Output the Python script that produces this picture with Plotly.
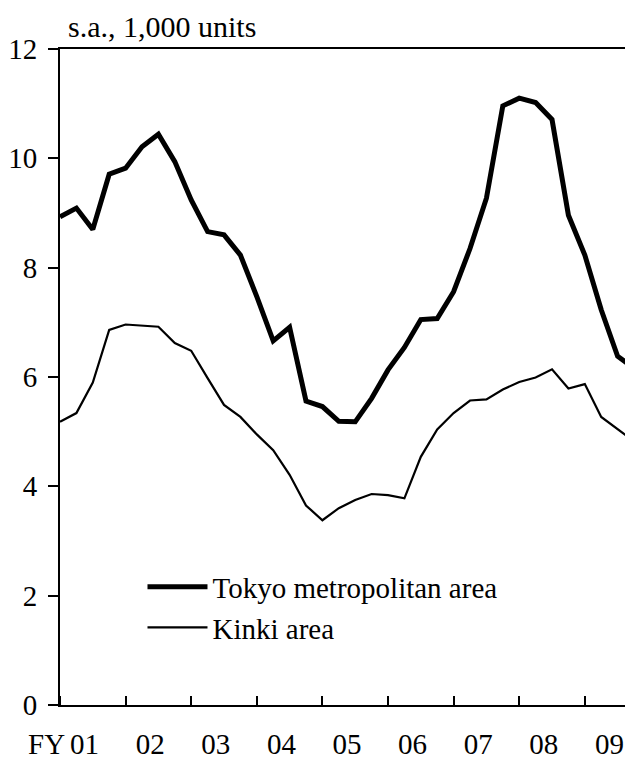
import plotly.graph_objects as go

# quarterly index, FY2001 Q1 = 0
quarters = list(range(36))

tokyo = [8.93, 9.09, 8.70, 9.71, 9.82, 10.21, 10.44, 9.94,
         9.24, 8.66, 8.60, 8.23, 7.47, 6.66, 6.91, 5.56,
         5.46, 5.19, 5.18, 5.61, 6.13, 6.54, 7.05, 7.07,
         7.56, 8.35, 9.27, 10.96, 11.10, 11.02, 10.71, 8.96,
         8.23, 7.23, 6.38, 6.16]

kinki = [5.18, 5.34, 5.90, 6.86, 6.96, 6.94, 6.92, 6.62,
         6.48, 5.98, 5.49, 5.27, 4.95, 4.66, 4.21, 3.65,
         3.38, 3.60, 3.75, 3.86, 3.84, 3.78, 4.54, 5.04,
         5.34, 5.57, 5.59, 5.77, 5.91, 5.99, 6.14, 5.79,
         5.87, 5.27, 5.04, 4.82]

year_labels = ["01", "02", "03", "04", "05", "06", "07", "08", "09"]
label_pos = [4 * i + 1.5 for i in range(len(year_labels))]

font = "Liberation Serif"

fig = go.Figure()
fig.add_trace(go.Scatter(x=quarters, y=tokyo, mode="lines", name="Tokyo metropolitan area",
                         line=dict(color="black", width=5), legendgroup="a"))
fig.add_trace(go.Scatter(x=quarters, y=kinki, mode="lines", name="Kinki area",
                         line=dict(color="black", width=2.2), legendgroup="b"))

fig.update_layout(
    width=625, height=760,
    margin=dict(l=60, r=0, t=49, b=55, autoexpand=False),
    plot_bgcolor="white", paper_bgcolor="white",
    font=dict(family=font, size=29, color="black"),
    showlegend=True,
    legend=dict(x=0.146, y=0.219, xanchor="left", yanchor="top",
                bgcolor="rgba(0,0,0,0)", font=dict(family=font, size=29),
                itemwidth=60, tracegroupgap=0, traceorder="grouped"),
    annotations=[
        dict(text="s.a., 1,000 units", xref="paper", yref="paper", x=0, y=1,
             xanchor="left", yanchor="bottom", xshift=6, yshift=4,
             showarrow=False, font=dict(family=font, size=30)),
        dict(text="FY", xref="x", yref="paper", x=0.45, y=0,
             xanchor="right", yanchor="top", yshift=-21,
             showarrow=False, font=dict(family=font, size=29)),
    ],
)

fig.update_xaxes(
    range=[0, 34.45], automargin=False,
    tickmode="array", tickvals=label_pos, ticktext=year_labels,
    ticks="", showgrid=False, zeroline=False,
    showline=True, linecolor="black", linewidth=2, mirror=True,
    ticklabelstandoff=12, tickfont=dict(family=font, size=29),
    minor=dict(tick0=0, dtick=4, ticks="inside", ticklen=9, tickwidth=2,
               tickcolor="black", showgrid=False),
)
fig.update_yaxes(
    range=[0, 12], automargin=False, tickvals=[0, 2, 4, 6, 8, 10, 12],
    ticks="outside", ticklen=10, tickwidth=2, tickcolor="black",
    showgrid=False, zeroline=False,
    showline=True, linecolor="black", linewidth=2,
    ticklabelstandoff=5, tickfont=dict(family=font, size=29),
)

# drop the default 8px body margin so the figure sits at the page corner
fig.write_html("out.html", config={"displayModeBar": False},
               post_script="document.body.style.margin='0';")
